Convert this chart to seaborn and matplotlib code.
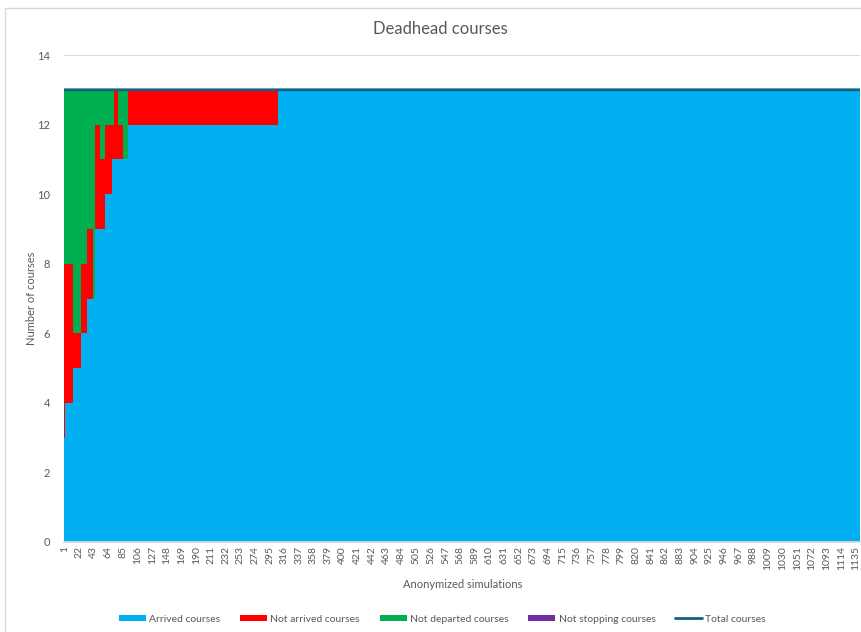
import numpy as np
import pandas as pd
import matplotlib
matplotlib.use("Agg")
import matplotlib.pyplot as plt
import matplotlib.patches as mpatches
from matplotlib.lines import Line2D
import seaborn as sns

# Simulations are sorted by outcome; consecutive simulations sharing the same
# breakdown are stored as runs (run length + course counts for that run).
run_lengths = [2, 11, 12, 8, 8, 4, 7, 7, 10, 2, 7, 7, 7, 214, 835]
arrived = [3, 4, 5, 6, 7, 7, 9, 9, 10, 11, 11, 11, 11, 12, 13]
not_arrived = [5, 4, 1, 2, 2, 0, 3, 2, 2, 1, 2, 1, 0, 1, 0]
not_departed = [5, 5, 7, 5, 4, 6, 1, 2, 1, 1, 0, 1, 2, 0, 0]
not_stopping = [0, 0, 0, 0, 0, 0, 0, 0, 0, 0, 0, 0, 0, 0, 0]
total_courses = 13
label_step = 21

series_names = ["Arrived courses", "Not arrived courses",
                "Not departed courses", "Not stopping courses"]
series_colors = ["#00B0F0", "#FF0000", "#00B050", "#7030A0"]
total_color = "#156082"
text_color = "#595959"
grid_color = "#D9D9D9"

# Expand runs into one row per simulation
n_sims = int(np.sum(run_lengths))
df = pd.DataFrame({
    "sim": np.arange(1, n_sims + 1),
    "arrived": np.repeat(arrived, run_lengths),
    "not_arrived": np.repeat(not_arrived, run_lengths),
    "not_departed": np.repeat(not_departed, run_lengths),
    "not_stopping": np.repeat(not_stopping, run_lengths),
})
df["total"] = total_courses

# Cumulative heights for the stacked bars (bottom layer first)
layers = ["arrived", "not_arrived", "not_departed", "not_stopping"]
cum = df[layers].cumsum(axis=1)

sns.set_theme(style="white")
plt.rcParams["font.family"] = ["Lato", "DejaVu Sans"]

fig = plt.figure(figsize=(8.61, 6.32), dpi=100)
ax = fig.add_axes([64 / 861, 1 - 542 / 632, (860.4 - 64) / 861, (542 - 55) / 632])

# Draw the stack from the top layer down so each lower layer covers the rest
for layer, color in reversed(list(zip(layers, series_colors))):
    sns.barplot(x=df["sim"], y=cum[layer], color=color, width=1.0,
                errorbar=None, linewidth=0, saturation=1, ax=ax)

sns.lineplot(x=np.arange(n_sims), y=df["total"], color=total_color,
             linewidth=2.0, ax=ax)

ax.set_xlim(-0.5, n_sims - 0.5)
ax.set_ylim(0, 14)
ax.set_yticks(np.arange(0, 15, 2))
ax.yaxis.grid(True, color=grid_color, linewidth=0.8)
ax.set_axisbelow(True)

tick_pos = np.arange(0, n_sims, label_step)
ax.set_xticks(tick_pos)
ax.set_xticklabels([str(v) for v in df["sim"].values[::label_step]],
                   rotation=90, fontsize=7.5, color=text_color)
ax.tick_params(axis="y", labelsize=8, colors=text_color, length=0, pad=10)
ax.tick_params(axis="x", length=0, pad=3)

for side in ["top", "right", "left"]:
    ax.spines[side].set_visible(False)
ax.spines["bottom"].set_color(grid_color)

ax.set_xlabel("Anonymized simulations", fontsize=8, color=text_color, labelpad=6)
ax.set_ylabel("Number of courses", fontsize=8, color=text_color, labelpad=0)
fig.text(0.512, 1 - 29 / 632, "Deadhead courses", ha="center", va="center",
         fontsize=12, color=text_color)

handles = [mpatches.Patch(facecolor=c, edgecolor="none") for c in series_colors]
handles.append(Line2D([0], [0], color=total_color, linewidth=2.0))
fig.legend(handles, series_names + ["Total courses"], loc="center",
           bbox_to_anchor=(0.514, 1 - 619 / 632), ncol=5, frameon=False,
           fontsize=7.5, labelcolor=text_color, handlelength=2.6,
           handleheight=0.5, handletextpad=0.3, columnspacing=1.9)

# Chart area border
fig.add_artist(mpatches.Rectangle((5 / 861, -0.05), 1.2, 1 - 8 / 632 + 0.05,
                                  transform=fig.transFigure, fill=False,
                                  edgecolor=grid_color, linewidth=1.0))

fig.savefig("out.png", dpi=100)
